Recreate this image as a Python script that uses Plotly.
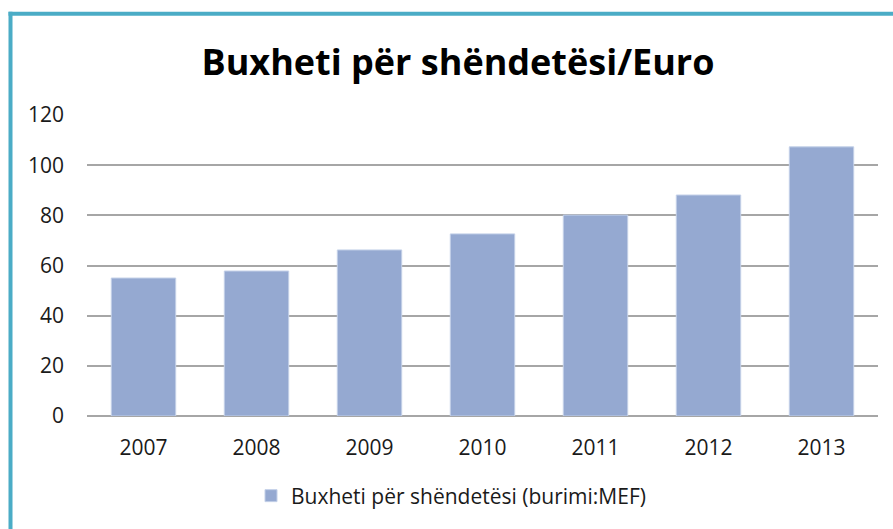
import plotly.graph_objects as go

years = ["2007", "2008", "2009", "2010", "2011", "2012", "2013"]
budget = [55.0, 57.8, 66.2, 72.6, 80.1, 88.1, 107.3]
y_ticks = [0, 20, 40, 60, 80, 100, 120]

title_text = "Buxheti për shëndetësi/Euro"
series_name = "Buxheti për shëndetësi (burimi:MEF)"

W, H = 893, 529
L, R, T, B = 87, 15, 115, 113
plot_w = W - L - R
plot_h = H - T - B

def px_x(px):
    return (px - L) / plot_w

def px_y(py):
    return (H - B - py) / plot_h

fig = go.Figure()
fig.add_trace(go.Bar(
    x=years, y=budget, name=series_name,
    marker=dict(color="#95A9D1", line=dict(color="#C3D0E8", width=1)),
    showlegend=True,
))

border = "#4BACC6"
fig.update_layout(
    width=W, height=H,
    margin=dict(l=L, r=R, t=T, b=B),
    paper_bgcolor="white", plot_bgcolor="white",
    bargap=0.43,
    font=dict(family="Open Sans", color="#1a1a1a"),
    title=dict(text=title_text, x=458 / W, xanchor="center", y=1 - 62 / H, yanchor="middle",
               font=dict(family="Open Sans", size=36, color="#000000", weight="bold")),
    xaxis=dict(type="category", showgrid=False, showline=False, ticks="",
               tickfont=dict(size=21, color="#1a1a1a"), ticklabelstandoff=17),
    yaxis=dict(range=[0, 120], tickvals=y_ticks, showgrid=True, gridcolor="#A6A6A6", gridwidth=1.5,
               zeroline=True, zerolinecolor="#A6A6A6", zerolinewidth=1.5, showline=False, ticks="",
               tickfont=dict(size=21, color="#1a1a1a"), ticklabelstandoff=22),
    legend=dict(orientation="h", x=px_x(451), xanchor="center", y=px_y(496), yanchor="middle",
                font=dict(size=21, color="#1a1a1a"), itemwidth=30),
    showlegend=True,
    shapes=[
        dict(type="line", xref="paper", yref="paper", x0=px_x(10.5), x1=px_x(10.5),
             y0=px_y(H + 5), y1=px_y(11.7), line=dict(color=border, width=4)),
        dict(type="line", xref="paper", yref="paper", x0=px_x(8.5), x1=px_x(W + 5),
             y0=px_y(13.7), y1=px_y(13.7), line=dict(color=border, width=4)),
    ],
)

fig.write_html("out.html", config={"displayModeBar": False},
               post_script="document.body.style.margin='0';document.body.style.overflow='hidden';")
